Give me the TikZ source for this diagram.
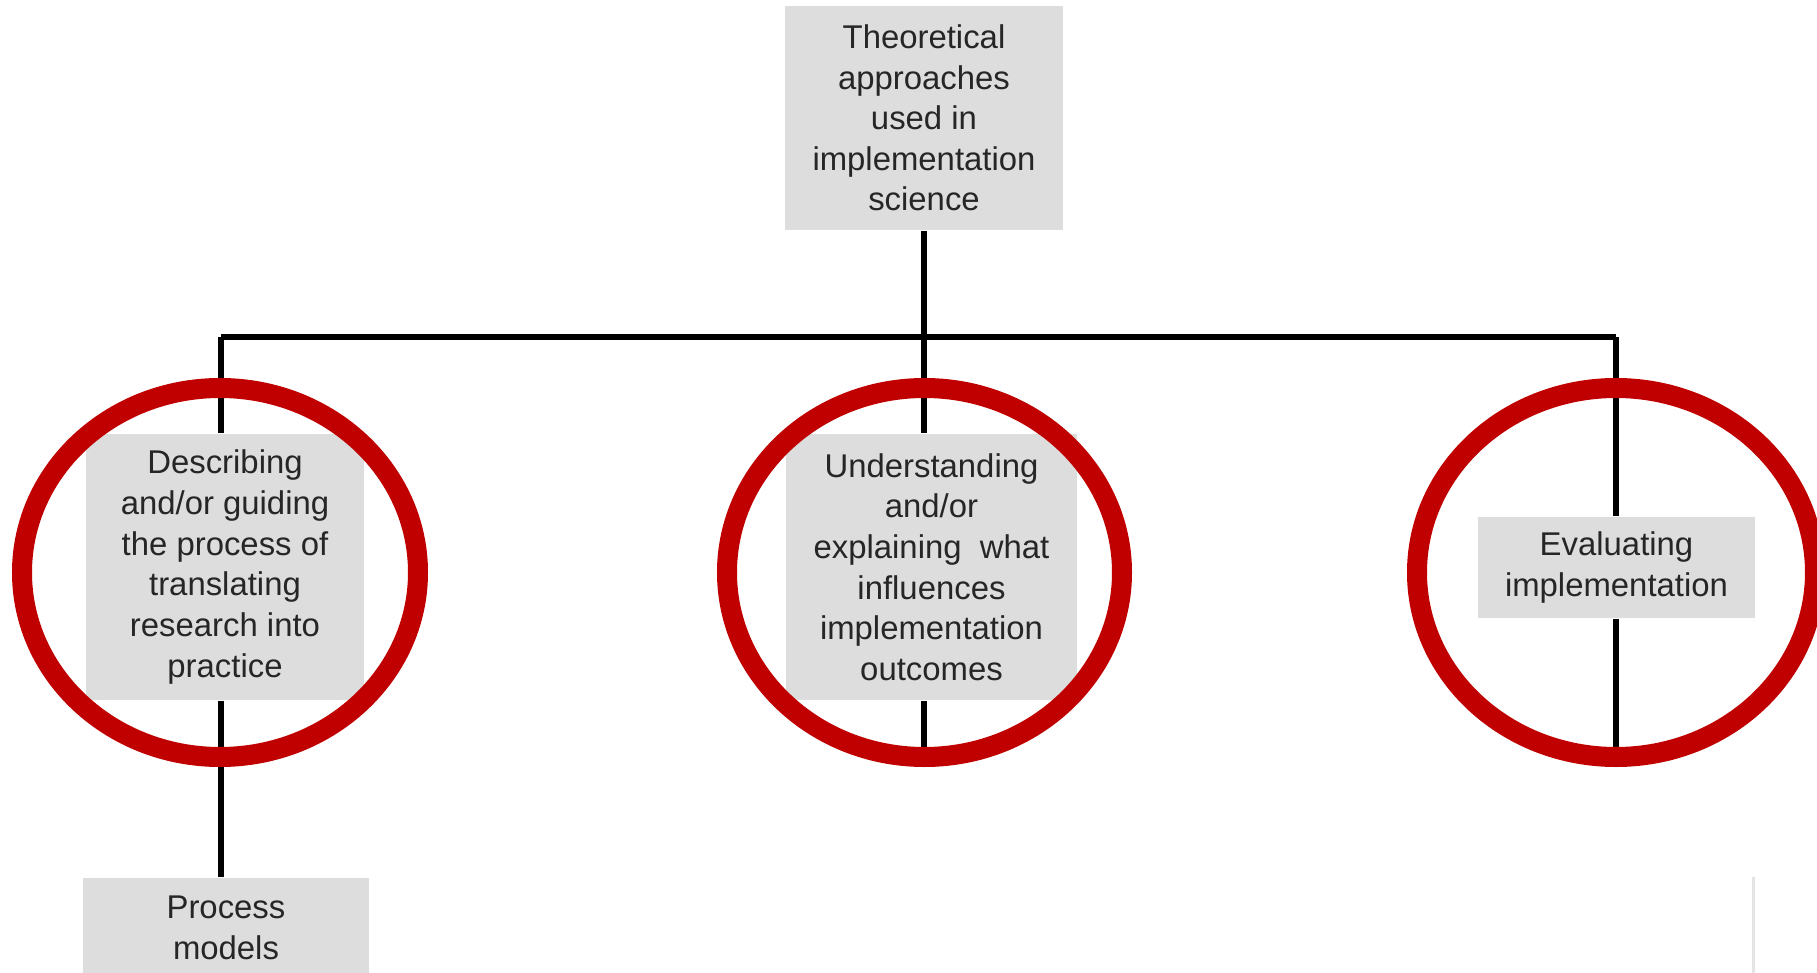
\documentclass[tikz,border=0pt]{standalone}
\usepackage{fontspec}
\setmainfont{Liberation Sans}
\definecolor{boxgray}{RGB}{221,221,221}
\definecolor{ringred}{RGB}{192,0,0}
\definecolor{faint}{RGB}{228,228,228}
\begin{document}
\begin{tikzpicture}[x=0.01cm,y=-0.01cm,
  box/.style={fill=boxgray,draw=none,align=center,inner sep=0pt,
    font=\fontsize{9.35pt}{11.55pt}\selectfont,text=black!85},
  link/.style={draw=black,line width=0.06cm},
  ring/.style={draw=ringred,line width=0.2cm}]
\useasboundingbox (0,0) rectangle (1817,973);
\clip (0,0) rectangle (1817,973);
% coordinates of the bus
\coordinate (bl) at (221,337);
\coordinate (bm) at (924,337);
\coordinate (br) at (1616,337);
\coordinate (mend) at (924,750);
\coordinate (rend) at (1616,750);
% boxes
\node[box,minimum width=2.78cm,minimum height=2.24cm] (top) at (924,118)
  {Theoretical\\approaches\\used in\\implementation\\science};
\node[box,minimum width=2.78cm,minimum height=2.66cm] (left) at (225,567)
  {Describing\\and/or guiding\\the process of\\translating\\research into\\practice};
\node[box,minimum width=2.91cm,minimum height=2.66cm] (mid) at (931.5,567)
  {Understanding\\and/or\\explaining\ \ what\\influences\\implementation\\outcomes};
\node[box,minimum width=2.77cm,minimum height=1.01cm] (right) at (1616.5,567.5)
  {Evaluating\\implementation};
\node[box,minimum width=2.86cm,minimum height=1.0cm] (proc) at (226,928)
  {Process\\models};
% connectors
\draw[link] (top.south -| bm) -- (bm);
\draw[link] (bl) -- (br);
\draw[link] (bl) -- (bl |- left.north);
\draw[link] (bl |- left.south) -- (bl |- proc.north);
\draw[link] (bm) -- (bm |- mid.north);
\draw[link] (bm |- mid.south) -- (mend);
\draw[link] (br) -- (br |- right.north);
\draw[link] (br |- right.south) -- (rend);
% rings
\draw[ring] (220,572.5) ellipse [x radius=198, y radius=184.5];
\draw[ring] (924.5,572.5) ellipse [x radius=197.5, y radius=184.5];
\draw[ring] (1616,572.5) ellipse [x radius=199, y radius=184.5];
% faint edge at bottom right
\coordinate (fa) at (1753,877);
\coordinate (fb) at (1753,973);
\draw[faint,line width=0.03cm] (fa) -- (fb);
\end{tikzpicture}
\end{document}
